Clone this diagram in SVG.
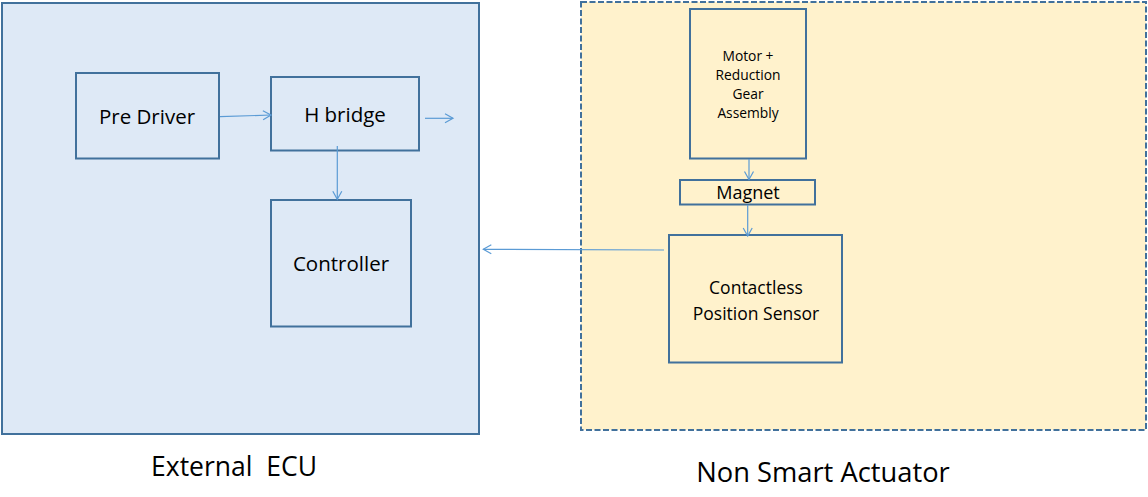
<svg xmlns="http://www.w3.org/2000/svg" width="1148" height="497" viewBox="0 0 1148 497">
<style>
  .box { fill: none; stroke: #41719c; stroke-width: 2; }
  .t { font-family: "Open Sans", "Noto Sans", "DejaVu Sans", sans-serif; fill: #000; text-anchor: middle; white-space: pre; }
  .conn line { stroke: #5b9bd5; stroke-width: 1.2; fill: none; marker-end: url(#arr); }
</style>
<defs>
  <marker id="arr" markerUnits="userSpaceOnUse" markerWidth="12" markerHeight="12" viewBox="0 0 12 12" refX="10" refY="6" orient="auto">
    <path d="M2,1.5 L10,6 L2,10.5" fill="none" stroke="#5b9bd5" stroke-width="1.2"/>
  </marker>
</defs>
<rect width="1148" height="497" fill="#ffffff"/>
<g id="external-ecu">
  <rect x="2" y="3" width="477" height="431" fill="#dee9f6" stroke="#41719c" stroke-width="2"/>
  <text class="t" x="234" y="476" font-size="26.5" xml:space="preserve">External  ECU</text>
</g>
<g id="non-smart-actuator">
  <rect x="581" y="2" width="565" height="428" fill="#fff2cc" stroke="#41719c" stroke-width="2" stroke-dasharray="6,2.5"/>
  <text class="t" x="823" y="482" font-size="27.3">Non Smart Actuator</text>
</g>
<g id="pre-driver">
  <rect class="box" x="76" y="73" width="143" height="85.5"/>
  <text class="t" x="147" y="124" font-size="20.5">Pre Driver</text>
</g>
<g id="h-bridge">
  <rect class="box" x="271" y="77" width="148" height="73.5"/>
  <text class="t" x="345" y="122" font-size="20.5">H bridge</text>
</g>
<g id="controller">
  <rect class="box" x="271" y="200" width="140" height="126.5"/>
  <text class="t" x="341" y="271" font-size="20.5">Controller</text>
</g>
<g id="motor">
  <rect class="box" x="690" y="9" width="116" height="149.5"/>
  <text class="t" x="748" y="61" font-size="13.8">Motor +</text>
  <text class="t" x="748" y="80" font-size="13.8">Reduction</text>
  <text class="t" x="748" y="99" font-size="13.8">Gear</text>
  <text class="t" x="748" y="118" font-size="13.8">Assembly</text>
</g>
<g id="magnet">
  <rect class="box" x="680" y="180" width="135" height="24.5"/>
  <text class="t" x="748" y="199" font-size="18">Magnet</text>
</g>
<g id="sensor">
  <rect class="box" x="669" y="235" width="173" height="127.5"/>
  <text class="t" x="756" y="294" font-size="17.5">Contactless</text>
  <text class="t" x="756" y="320" font-size="17.5">Position Sensor</text>
</g>
<g id="connectors" class="conn">
  <line x1="220" y1="116.7" x2="271" y2="115"/>
  <line x1="425" y1="118.3" x2="453" y2="118.3"/>
  <line x1="337.3" y1="146" x2="337.3" y2="199.3"/>
  <line x1="749" y1="159" x2="749" y2="179.5"/>
  <line x1="747.7" y1="205" x2="747.7" y2="236"/>
  <line x1="664" y1="250" x2="483.3" y2="249.3"/>
</g>
</svg>
